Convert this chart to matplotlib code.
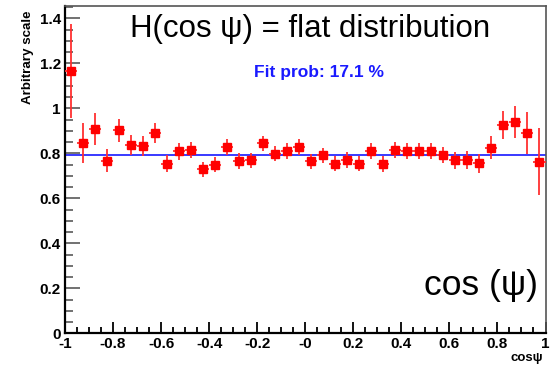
import numpy as np
import matplotlib
matplotlib.use("Agg")
import matplotlib.pyplot as plt
from matplotlib.ticker import MultipleLocator, FixedLocator

# Binned cos(psi) distribution, 40 bins on [-1, 1]
bin_edges = np.linspace(-1.0, 1.0, 41)
values = [1.166, 0.847, 0.908, 0.767, 0.902, 0.837, 0.832, 0.890, 0.754, 0.809,
          0.815, 0.730, 0.749, 0.829, 0.766, 0.769, 0.844, 0.798, 0.810, 0.828,
          0.764, 0.791, 0.754, 0.770, 0.754, 0.810, 0.751, 0.816, 0.810, 0.810,
          0.810, 0.793, 0.770, 0.770, 0.756, 0.825, 0.926, 0.938, 0.892, 0.763]
errors = [0.210, 0.090, 0.073, 0.052, 0.050, 0.046, 0.045, 0.045, 0.039, 0.038,
          0.037, 0.033, 0.033, 0.035, 0.034, 0.034, 0.035, 0.034, 0.034, 0.034,
          0.034, 0.034, 0.034, 0.034, 0.034, 0.035, 0.035, 0.035, 0.035, 0.036,
          0.036, 0.037, 0.038, 0.040, 0.042, 0.052, 0.063, 0.072, 0.094, 0.150]
fit_level = 0.793
fit_prob = 17.1

x_ticks = [-1, -0.8, -0.6, -0.4, -0.2, 0, 0.2, 0.4, 0.6, 0.8, 1]
x_ticklabels = ["-1", "-0.8", "-0.6", "-0.4", "-0.2", "-0", "0.2", "0.4", "0.6", "0.8", "1"]
y_ticks = [0, 0.2, 0.4, 0.6, 0.8, 1, 1.2, 1.4]
y_ticklabels = ["0", "0.2", "0.4", "0.6", "0.8", "1", "1.2", "1.4"]

plt.rcParams["font.family"] = ["Liberation Sans", "DejaVu Sans"]

fig = plt.figure(figsize=(5.57, 3.66), dpi=100)
ax = fig.add_axes([65 / 557, 1 - 333.3 / 366, 480.5 / 557, 327.3 / 366])

centers = 0.5 * (bin_edges[:-1] + bin_edges[1:])
half_w = 0.5 * np.diff(bin_edges)

ax.plot([-1, 1], [fit_level, fit_level], color="#2a2aff", lw=1.3, zorder=2)
ax.errorbar(centers, values, yerr=errors, xerr=half_w, fmt="s", color="#ff0000",
            ecolor="#ff3030", elinewidth=1.3, markersize=6.0, capsize=0, zorder=3)

ax.set_xlim(-1, 1)
ax.set_ylim(0, 1.455)

ax.xaxis.set_major_locator(FixedLocator(x_ticks))
ax.set_xticklabels(x_ticklabels)
ax.xaxis.set_minor_locator(MultipleLocator(0.05))
ax.yaxis.set_major_locator(FixedLocator(y_ticks))
ax.set_yticklabels(y_ticklabels)
ax.yaxis.set_minor_locator(MultipleLocator(0.05))

ax.tick_params(axis="both", which="both", direction="in", top=False, right=False,
               labelsize=11, colors="black")
ax.tick_params(axis="y", which="major", length=11, width=1.3, color="#666666", pad=3)
ax.tick_params(axis="y", which="minor", length=5.5, width=1.3, color="#666666")
ax.tick_params(axis="x", which="major", length=8, width=1.3, color="black", pad=3)
ax.tick_params(axis="x", which="minor", length=4, width=1.3, color="black")
for lab in ax.get_xticklabels() + ax.get_yticklabels():
    lab.set_fontweight("bold")

for side in ("left", "bottom"):
    ax.spines[side].set_color("black")
    ax.spines[side].set_linewidth(1.6)
for side in ("top", "right"):
    ax.spines[side].set_color("#555555")
    ax.spines[side].set_linewidth(1.2)

fig.text(27.5 / 557, 1 - 10 / 366, "Arbitrary scale", rotation=90, ha="center", va="top",
         fontsize=9.6, fontweight="bold")
fig.text(543 / 557, 1 - 358 / 366, "cos\u03c8", ha="right", va="center",
         fontsize=9.5, fontweight="bold")

fig.text(310 / 557, 1 - 29 / 366, "H(cos \u03c8) = flat distribution", ha="center",
         va="center", fontsize=22.5)
fig.text(319.5 / 557, 1 - 72 / 366, "Fit prob: %.1f %%" % fit_prob, ha="center",
         va="center", fontsize=12.5, fontweight="bold", color="#1a1aff")
fig.text(538 / 557, 1 - 285 / 366, "cos (\u03c8)", ha="right", va="center", fontsize=25.5)

fig.savefig("out.png", dpi=100)
